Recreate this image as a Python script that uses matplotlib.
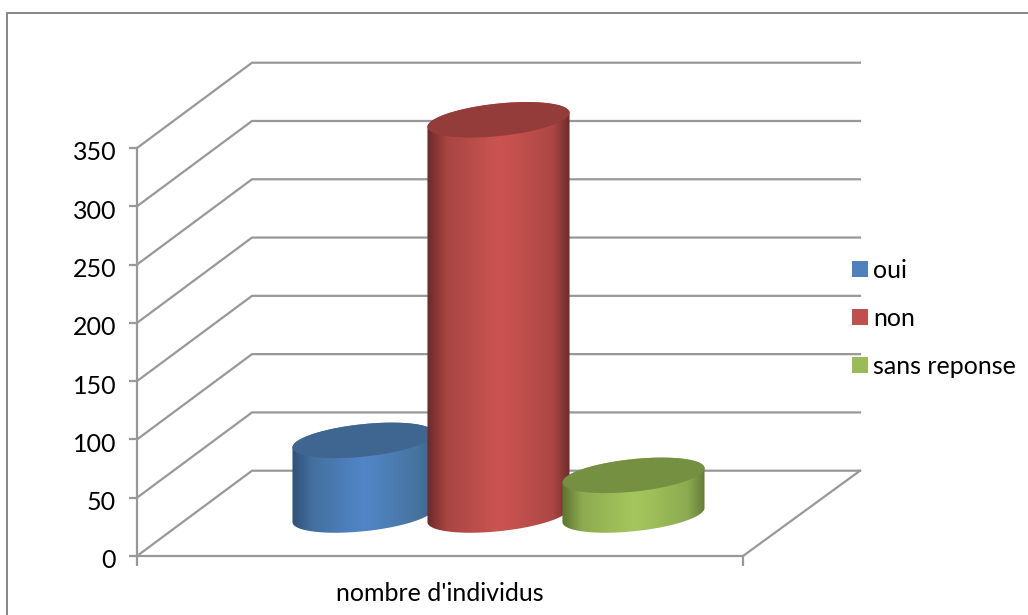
import numpy as np
import matplotlib
matplotlib.use('Agg')
import matplotlib.pyplot as plt
from matplotlib.colors import LinearSegmentedColormap
from matplotlib.lines import Line2D
from matplotlib.patches import Patch, Polygon
from matplotlib.transforms import ScaledTranslation

plt.rcParams['font.family'] = ['Lato', 'DejaVu Sans']

labels = ['oui', 'non', 'sans reponse']
values = [64, 339, 34]
category = "nombre d'individus"
yticks = [0, 50, 100, 150, 200, 250, 300, 350]

colors = ['#4f81bd', '#c0504d', '#9bbb59']
top_colors = ['#3f6690', '#943c39', '#769042']
ramps = [['#2f5078', '#44709f', '#5186c8', '#4e80bb', '#46749f', '#3c628c'],
         ['#6b2a28', '#a84643', '#cb5451', '#c4504d', '#ad4845', '#6e2b29'],
         ['#5c7330', '#8eab50', '#a5c65d', '#9fbf5a', '#8cab50', '#657d38']]
stops = [0, 0.14, 0.5, 0.62, 0.88, 1]

W, H = 1028, 615
x0, x1, y_top, y_bot = 137, 743, 148, 556
grid_col = '#989898'
lw = 1.6
fs = 18

fig = plt.figure(figsize=(W / 100, H / 100), dpi=100)
ax = fig.add_axes([x0 / W, 1 - y_bot / H, (x1 - x0) / W, (y_bot - y_top) / H])
ax.set_xlim(x0, x1)
ax.set_ylim(0, 350)
scale = (y_bot - y_top) / 350  # pixels per unit

# back wall and floor
dx, dy = 115, 85.3 / scale
for v in yticks:
    ax.plot([x0, x0 + dx, 860], [v, v + dy, v + dy], color=grid_col, lw=lw, clip_on=False, zorder=1)
ax.plot([x1, 860], [0, dy], color=grid_col, lw=lw, clip_on=False, zorder=1)

for s in ['top', 'right']:
    ax.spines[s].set_visible(False)
for s in ['left', 'bottom']:
    ax.spines[s].set_color(grid_col)
    ax.spines[s].set_linewidth(lw)
ax.set_yticks(yticks)
ax.tick_params(axis='y', length=6, width=lw, color=grid_col, labelsize=fs, pad=9)
shift = ScaledTranslation(0, -3 / 100, fig.dpi_scale_trans)
for t in ax.get_yticklabels():
    t.set_transform(t.get_transform() + shift)
ax.set_xticks([440])
ax.set_xticklabels([category], fontsize=fs)
ax.set_xticks([x0, x1], minor=True)
ax.tick_params(axis='x', which='major', length=0, pad=19)
ax.tick_params(axis='x', which='minor', length=7, width=lw, color=grid_col)

# cylinders
a, b, theta = 71.4, 16.2, np.radians(6)
centers = [363.5, 498.5, 633.5]
base = 41 / scale
t0 = np.arctan2(-b * np.sin(theta), a * np.cos(theta))


def ring(cx, cy, t):
    x = cx + a * np.cos(t) * np.cos(theta) - b * np.sin(t) * np.sin(theta)
    y = cy + (a * np.cos(t) * np.sin(theta) + b * np.sin(t) * np.cos(theta)) / scale
    return x, y


for i in range(3):
    cx = centers[i]
    top = base + values[i]
    xl, yl = ring(cx, base, np.linspace(t0 + np.pi, t0 + 2 * np.pi, 80))
    xu, yu = ring(cx, top, np.linspace(t0, t0 + np.pi, 80))
    body = Polygon(np.column_stack([np.r_[xl, xu], np.r_[yl, yu]]), closed=True,
                   transform=ax.transData, fc='none', ec='none')
    ax.add_patch(body)
    body.set_clip_on(False)
    cmap = LinearSegmentedColormap.from_list('c%d' % i, list(zip(stops, ramps[i])))
    grad = np.linspace(0, 1, 256).reshape(1, -1)
    im = ax.imshow(grad, cmap=cmap, aspect='auto', interpolation='bilinear',
                   extent=(cx - a, cx + a, yl.min() - 2, yu.max() + 2), zorder=3 + i)
    im.set_clip_box(fig.bbox)
    im.set_clip_path(body)
    xe, ye = ring(cx, top, np.linspace(0, 2 * np.pi, 160))
    ax.fill(xe, ye, color=top_colors[i], lw=0, clip_on=False, zorder=3 + i)
ax.set_xlim(x0, x1)
ax.set_ylim(0, 350)

handles = [Patch(fc=c, ec='none') for c in colors]
fig.legend(handles, labels, loc='upper left', bbox_to_anchor=(847 / W, 1 - 254 / H),
           frameon=False, fontsize=fs, handlelength=0.62, handleheight=0.62,
           handletextpad=0.22, labelspacing=0.99, borderpad=0.2, borderaxespad=0)

# chart frame
fig.add_artist(Line2D([7 / W, 7 / W, 1], [0, 1 - 13 / H, 1 - 13 / H], color='#868686', lw=1.4))

fig.savefig('out.png', dpi=100)
